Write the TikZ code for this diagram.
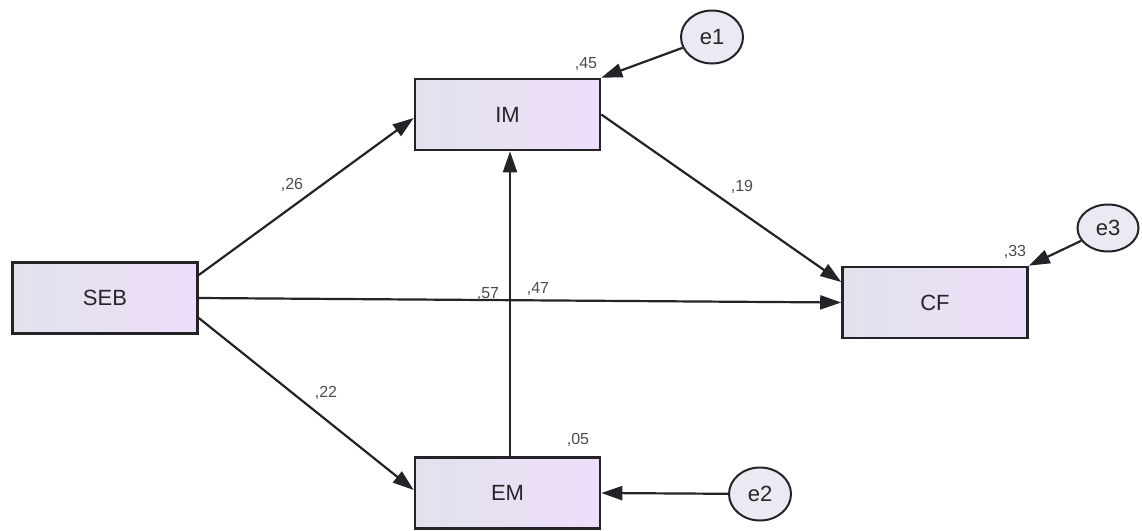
\documentclass[tikz,border=0pt]{standalone}
\usepackage{fontspec}
\setmainfont{Liberation Sans}
\usetikzlibrary{arrows.meta,shapes.geometric}
\definecolor{boxl}{RGB}{226,226,236}
\definecolor{boxr}{RGB}{238,222,250}
\definecolor{errf}{RGB}{234,234,242}
\definecolor{lnc}{RGB}{35,35,40}
\begin{document}
\begin{tikzpicture}[x=1pt,y=-1pt,
  var/.style={draw=lnc,line width=2.6pt,left color=boxl,right color=boxr,minimum width=185pt,minimum height=71pt,inner sep=0pt,font=\fontsize{22}{26}\selectfont,text=black!85},
  err/.style={draw=lnc,line width=2pt,fill=errf,ellipse,minimum width=62pt,minimum height=53pt,inner sep=0pt,font=\fontsize{22}{26}\selectfont,text=black!85},
  path/.style={draw=lnc,line width=2.2pt,-{Triangle[length=21pt,width=14pt]}},
  coef/.style={font=\fontsize{16}{18}\selectfont,text=black!70,inner sep=1pt}]
\useasboundingbox (0,0) rectangle (1142,530);
\node[var] (IM) at (507.5,114.5) {IM};
\node[var] (SEB) at (105,298) {SEB};
\node[var] (CF) at (935,302.5) {CF};
\node[var] (EM) at (507.5,493) {EM};
\node[err] (e1) at (712,37) {e1};
\node[err,minimum width=61pt,minimum height=47pt] (e3) at (1108,228) {e3};
\node[err] (e2) at (760,494) {e2};
\draw[path] (SEB.east |- 0,275) -- (IM.west |- 0,118);
\draw[path] (SEB.east |- 0,318) -- (EM.west |- 0,490);
\draw[path] (SEB.east) -- (CF.west);
\draw[path] (EM.north -| 510,0) -- (IM.south -| 510,0);
\draw[path] (IM.east) -- (CF.west |- 0,282);
\draw[path] (e1) -- (IM.north east);
\draw[path] (e3) -- (CF.north east);
\draw[path] (e2) -- (EM.east);
\node[coef] (l26) at (292,185) {,26};
\node[coef] (l19) at (742,187) {,19};
\node[coef] (l22) at (326,393) {,22};
\node[coef] (l05) at (578,440) {,05};
\node[coef] (l45) at (586,64) {,45};
\node[coef] (l33) at (1015,252) {,33};
\node[coef] (l57) at (488,294) {,57};
\node[coef] (l47) at (538,289) {,47};
\end{tikzpicture}
\end{document}
